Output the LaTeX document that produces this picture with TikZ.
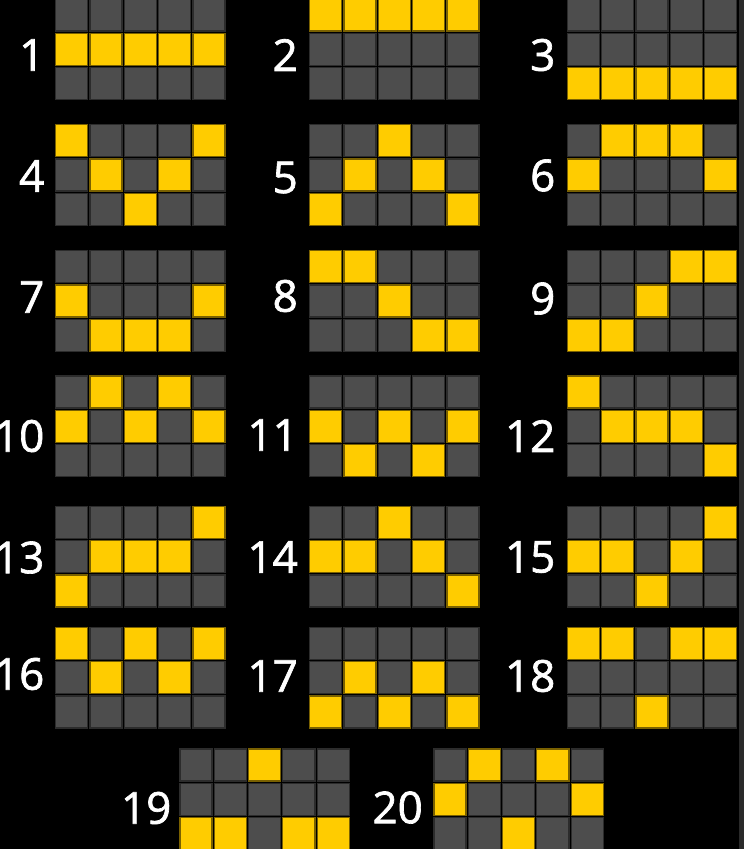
\documentclass[tikz,border=0pt]{standalone}
\usepackage{fontspec}
\setmainfont{Open Sans}
\newfontfamily\lblfont[FakeBold=1.5]{Open Sans}
\definecolor{cellgray}{HTML}{4D4D4D}
\definecolor{cellgrayline}{HTML}{2C2C2C}
\definecolor{cellyel}{HTML}{FFCC00}
\definecolor{cellyelline}{HTML}{7A6100}
\definecolor{sidebar}{HTML}{2A2A2A}
\tikzset{
  cellg/.style={fill=cellgray,draw=cellgrayline,line width=1.2pt},
  celly/.style={fill=cellyel,draw=cellyelline,line width=1.2pt},
  numlbl/.style={text=white,anchor=east,inner sep=0pt,font=\lblfont\fontsize{44}{44}\selectfont}
}
\newcommand\paygrid[3]{%
  \foreach \cc in {0,...,4}{\foreach \rr in {0,1,2}{%
    \path[cellg] ({#1+\cc*34.33+0.6},{#2+\rr*34.33+0.6}) rectangle ++(32.1,32.1);}}%
  \foreach \cc/\rr in {#3}{%
    \path[celly] ({#1+\cc*34.33+0.6},{#2+\rr*34.33+0.6}) rectangle ++(32.1,32.1);}%
}
\begin{document}
\begin{tikzpicture}[x=1pt,y=-1pt]
\useasboundingbox (0,0) rectangle (744,849);
\clip (0,0) rectangle (744,849);
\fill[black] (0,0) rectangle (744,849);
\fill[sidebar] (738.7,0) rectangle (744,849);
% row 1
\paygrid{55}{-1.8}{0/1,1/1,2/1,3/1,4/1}
\paygrid{309}{-1.8}{0/0,1/0,2/0,3/0,4/0}
\paygrid{566.7}{-1.8}{0/2,1/2,2/2,3/2,4/2}
% row 2
\paygrid{55}{124}{0/0,4/0,1/1,3/1,2/2}
\paygrid{309}{124}{2/0,1/1,3/1,0/2,4/2}
\paygrid{566.7}{124}{1/0,2/0,3/0,0/1,4/1}
% row 3
\paygrid{55}{250}{0/1,4/1,1/2,2/2,3/2}
\paygrid{309}{250}{0/0,1/0,2/1,3/2,4/2}
\paygrid{566.7}{250}{3/0,4/0,2/1,0/2,1/2}
% row 4
\paygrid{55}{375.3}{1/0,3/0,0/1,2/1,4/1}
\paygrid{309}{375.3}{0/1,2/1,4/1,1/2,3/2}
\paygrid{566.7}{375.3}{0/0,1/1,2/1,3/1,4/2}
% row 5
\paygrid{55}{505.7}{4/0,1/1,2/1,3/1,0/2}
\paygrid{309}{505.7}{2/0,0/1,1/1,3/1,4/2}
\paygrid{566.7}{505.7}{4/0,0/1,1/1,3/1,2/2}
% row 6
\paygrid{55}{626.7}{0/0,2/0,4/0,1/1,3/1}
\paygrid{309}{626.7}{1/1,3/1,0/2,2/2,4/2}
\paygrid{566.7}{626.7}{0/0,1/0,3/0,4/0,2/2}
% row 7
\paygrid{179.3}{748.3}{2/0,0/2,1/2,3/2,4/2}
\paygrid{433.3}{748.3}{1/0,3/0,0/1,4/1,2/2}
% labels
\node[numlbl] (n1) at (44.5,55) {1};
\node[numlbl] (n2) at (298,55) {2};
\node[numlbl] (n3) at (555.5,55) {3};
\node[numlbl] (n4) at (44.5,176) {4};
\node[numlbl] (n5) at (298,177.5) {5};
\node[numlbl] (n6) at (555.5,175.5) {6};
\node[numlbl] (n7) at (44.5,297) {7};
\node[numlbl] (n8) at (298,296) {8};
\node[numlbl] (n9) at (555.5,298.5) {9};
\node[numlbl] (n10) at (44.5,436) {10};
\node[numlbl] (n11) at (298,435) {11};
\node[numlbl] (n12) at (555.5,436) {12};
\node[numlbl] (n13) at (44.5,557.5) {13};
\node[numlbl] (n14) at (298,557) {14};
\node[numlbl] (n15) at (555.5,557) {15};
\node[numlbl] (n16) at (44.5,674) {16};
\node[numlbl] (n17) at (298,676) {17};
\node[numlbl] (n18) at (555.5,676) {18};
\node[numlbl] (n19) at (171.5,808) {19};
\node[numlbl] (n20) at (423,807.5) {20};
\end{tikzpicture}
\end{document}
